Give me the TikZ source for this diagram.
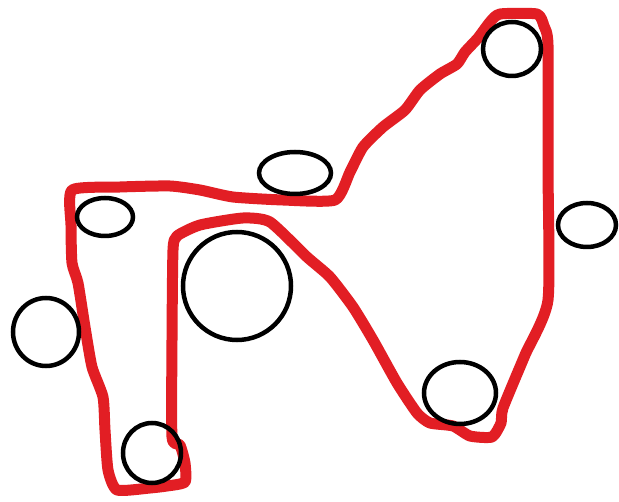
\documentclass[tikz,border=0pt]{standalone}
\definecolor{redline}{RGB}{226,30,36}
\tikzset{
  ring/.style={draw=black, line width=4.5pt},
  outline/.style={draw=redline, line width=11pt, line join=round, line cap=round}
}
\begin{document}
\begin{tikzpicture}[x=1pt,y=-1pt]
\useasboundingbox (0,0) rectangle (619,502);
\fill[white] (0,0) rectangle (619,502);
\draw[outline] plot[smooth cycle, tension=0.35] coordinates {
 (72,190) (120,187) (170,186) (200,190) (233,197) (283,200) (335,200)
 (350,172) (363,147) (383,127) (405,110) (420,90) (440,74) (457,64)
 (465,52) (478,38) (490,22) (500,14) (537,14) (544,26) (548,45)
 (548,170) (548,300) (525,355) (503,408) (501,423) (492,437) (470,436) (453,426)
 (430,423) (417,413) (397,383) (373,340) (353,307) (330,277) (307,257)
 (270,222) (243,218) (200,225) (177,236) (173,250) (172,340) (172,437) (180,445)
 (185,463) (185,482) (167,486) (150,488) (117,490) (108,470) (105,430)
 (103,397) (92,367) (85,327) (78,283) (72,263) (71,225)};
\draw[ring] (512,49) ellipse [x radius=29, y radius=27];
\draw[ring] (587,225) ellipse [x radius=29, y radius=22];
\draw[ring] (295,173) ellipse [x radius=36, y radius=21];
\draw[ring] (237,286) circle [radius=54];
\draw[ring] (105,217) ellipse [x radius=28, y radius=19];
\draw[ring] (46,332) ellipse [x radius=33, y radius=34];
\draw[ring] (152,453) ellipse [x radius=29, y radius=30];
\draw[ring] (460,393) ellipse [x radius=36, y radius=31];
\end{tikzpicture}
\end{document}
